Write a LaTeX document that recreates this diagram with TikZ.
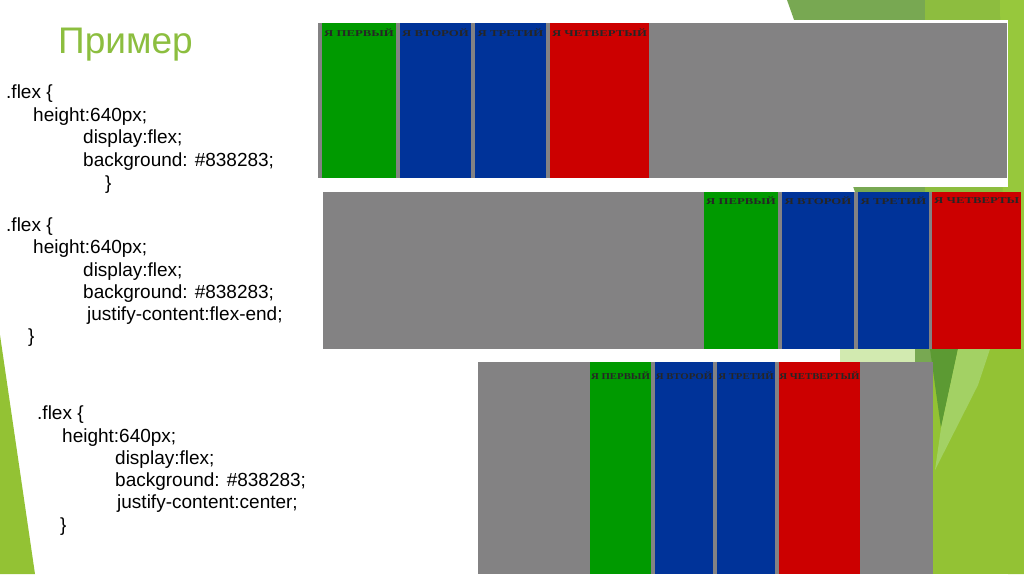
\documentclass[tikz,border=0pt]{standalone}
\usepackage{fontspec}
\setmainfont{Liberation Sans}
\newfontfamily\lblfont{Liberation Serif}
\definecolor{flexgray}{HTML}{838283}
\definecolor{itgreen}{HTML}{009A00}
\definecolor{itblue}{HTML}{003399}
\definecolor{itred}{HTML}{CC0000}
\definecolor{titlegreen}{HTML}{8CBE3F}
\definecolor{gmid}{HTML}{78A852}
\definecolor{glight}{HTML}{8DBD3F}
\definecolor{gstrip}{HTML}{97C83C}
\definecolor{gbase}{HTML}{93C234}
\definecolor{gdark}{HTML}{5C9A33}
\definecolor{gfacet}{HTML}{A3D164}
\definecolor{gpale}{HTML}{D2EAB0}
\begin{document}
\begin{tikzpicture}[x=1pt,y=-1pt,
  code/.style={anchor=base west,inner sep=0pt,font=\fontsize{19}{23}\selectfont},
  lbl/.style={inner sep=0pt,font=\lblfont\bfseries\fontsize{9}{10}\selectfont,text=black!85}]
\useasboundingbox (0,0) rectangle (1024,574);
\fill[white] (0,0) rectangle (1024,574);
% decorative greens
\fill[gmid] (787,0) -- (925,0) -- (925,192) -- (855,192) -- cycle;
\fill[glight] (925,0) -- (1002,0) -- (1008,192) -- (925,192) -- cycle;
\fill[gstrip] (1000,0) -- (1024,0) -- (1024,574) -- (1008,574) -- cycle;
\fill[gpale] (840,349) rectangle (915,362);
\fill[gmid] (915,349) rectangle (1024,362);
\fill[gbase] (933,349) rectangle (1024,574);
\fill[gdark] (930,349) -- (958,349) -- (941,428) -- cycle;
\fill[gfacet] (958,349) -- (990,349) -- (978,385) -- (935,470) -- (941,428) -- cycle;
\fill[gbase] (0,335) -- (35,574) -- (0,574) -- cycle;
% title
\node[anchor=base west,inner sep=0pt,text=titlegreen,font=\fontsize{37}{40}\selectfont] (title) at (58,53) {Пример};
% code block 1
\node[code] (a1) at (6,98) {.flex \{};
\node[code] (a2) at (33,121) {height:640px;};
\node[code] (a3) at (83,143) {display:flex;};
\node[code] (a4) at (83,166) {background: \#838283;};
\node[code] (a5) at (105,189) {\}};
% code block 2
\node[code] (b1) at (6,231) {.flex \{};
\node[code] (b2) at (33,253) {height:640px;};
\node[code] (b3) at (83,276) {display:flex;};
\node[code] (b4) at (83,298) {background: \#838283;};
\node[code] (b5) at (87,320) {justify-content:flex-end;};
\node[code] (b6) at (28,342) {\}};
% code block 3
\node[code] (c1) at (37,419) {.flex \{};
\node[code] (c2) at (62,442) {height:640px;};
\node[code] (c3) at (115,464) {display:flex;};
\node[code] (c4) at (115,486) {background: \#838283;};
\node[code] (c5) at (117,508) {justify-content:center;};
\node[code] (c6) at (60,531) {\}};
% row 1
\fill[white] (316,20) rectangle (1008,187);
\fill[flexgray] (318,23) rectangle (1007,178);
\fill[itgreen] (322,23) rectangle (396,178);
\fill[itblue] (400,23) rectangle (471,178);
\fill[itblue] (475,23) rectangle (546,178);
\fill[itred] (550,23) rectangle (649,178);
\node[lbl] (r1a) at (359,33) {\scalebox{1.42}[1]{Я ПЕРВЫЙ}};
\node[lbl] (r1b) at (435.5,33) {\scalebox{1.42}[1]{Я ВТОРОЙ}};
\node[lbl] (r1c) at (510.5,33) {\scalebox{1.42}[1]{Я ТРЕТИЙ}};
\node[lbl] (r1d) at (599.5,33) {\scalebox{1.42}[1]{Я ЧЕТВЕРТЫЙ}};
% row 2
\fill[flexgray] (323,192) rectangle (1021,349);
\fill[itgreen] (704,192) rectangle (778,349);
\fill[itblue] (782,192) rectangle (854,349);
\fill[itblue] (858,192) rectangle (929,349);
\fill[itred] (932,192) rectangle (1021,349);
\node[lbl] (r2a) at (741,201) {\scalebox{1.42}[1]{Я ПЕРВЫЙ}};
\node[lbl] (r2b) at (818,201) {\scalebox{1.42}[1]{Я ВТОРОЙ}};
\node[lbl] (r2c) at (893.5,201) {\scalebox{1.42}[1]{Я ТРЕТИЙ}};
\node[lbl,anchor=west] (r2d) at (934,201) {\scalebox{1.42}[1]{Я ЧЕТВЕРТЫ}};
% row 3
\fill[flexgray] (478,362) rectangle (933,574);
\fill[itgreen] (590,362) rectangle (651,574);
\fill[itblue] (655,362) rectangle (713,574);
\fill[itblue] (717,362) rectangle (775,574);
\fill[itred] (779,362) rectangle (860,574);
\node[lbl] (r3a) at (620.5,376) {\scalebox{1.2}[1]{Я ПЕРВЫЙ}};
\node[lbl] (r3b) at (684,376) {\scalebox{1.2}[1]{Я ВТОРОЙ}};
\node[lbl] (r3c) at (746,376) {\scalebox{1.2}[1]{Я ТРЕТИЙ}};
\node[lbl] (r3d) at (819.5,376) {\scalebox{1.2}[1]{Я ЧЕТВЕРТЫЙ}};
\end{tikzpicture}
\end{document}
